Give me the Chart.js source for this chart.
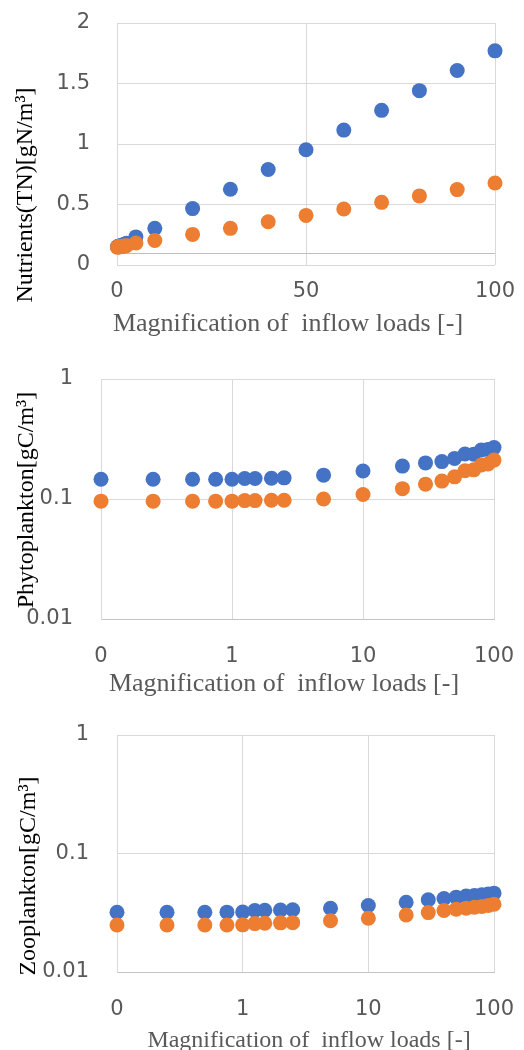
<!DOCTYPE html>
<html><head><meta charset="utf-8">
<script src="https://cdn.jsdelivr.net/npm/chart.js@4"></script>
<style>
html,body{margin:0;padding:0;background:#fff;}
body{width:524px;height:1050px;position:relative;overflow:hidden;}
.box{position:absolute;left:0;width:524px;}
canvas{display:block;}
</style></head><body>
<div class="box" style="top:0;height:340px"><canvas id="c1" width="524" height="340"></canvas></div>
<div class="box" style="top:340px;height:360px"><canvas id="c2" width="524" height="360"></canvas></div>
<div class="box" style="top:700px;height:350px"><canvas id="c3" width="524" height="350"></canvas></div>
<script>
// ---- data ----
const loadFactors = [0.1, 0.25, 0.5, 0.75, 1, 1.25, 1.5, 2, 2.5, 5, 10, 20, 30, 40, 50, 60, 70, 80, 90, 100];

const tnBlue   = [0.150, 0.152, 0.155, 0.158, 0.160, 0.163, 0.166, 0.172, 0.180, 0.232, 0.303, 0.466, 0.626, 0.789, 0.952, 1.115, 1.278, 1.441, 1.607, 1.770];
const tnOrange = [0.148, 0.149, 0.150, 0.151, 0.152, 0.153, 0.155, 0.157, 0.160, 0.182, 0.203, 0.253, 0.303, 0.358, 0.410, 0.463, 0.518, 0.571, 0.623, 0.678];

const phytoBlue   = [0.146, 0.146, 0.146, 0.146, 0.146, 0.148, 0.148, 0.149, 0.150, 0.158, 0.171, 0.188, 0.200, 0.205, 0.218, 0.237, 0.236, 0.256, 0.259, 0.268];
const phytoOrange = [0.096, 0.096, 0.096, 0.096, 0.096, 0.097, 0.097, 0.0975, 0.0975, 0.100, 0.109, 0.122, 0.133, 0.141, 0.153, 0.172, 0.175, 0.192, 0.196, 0.211];

const zooBlue   = [0.0319, 0.0319, 0.0319, 0.0320, 0.0321, 0.0330, 0.0332, 0.0334, 0.0335, 0.0345, 0.0364, 0.0388, 0.0407, 0.0417, 0.0428, 0.0437, 0.0443, 0.0449, 0.0455, 0.0463];
const zooOrange = [0.0249, 0.0249, 0.0249, 0.0249, 0.0250, 0.0256, 0.0258, 0.0260, 0.0261, 0.0271, 0.0284, 0.0303, 0.0317, 0.0330, 0.0339, 0.0345, 0.0352, 0.0357, 0.0364, 0.0373];

// ---- ticks ----
const tnXTickValues = [0, 50, 100];
const tnXTickLabels = ["0", "50", "100"];
const tnYTickValues = [0, 0.5, 1, 1.5, 2];
const tnYTickLabels = ["0", "0.5", "1", "1.5", "2"];
const logXTickValues = [0.1, 1, 10, 100];
const logXTickLabels = ["0", "1", "10", "100"];
const logYTickValues = [0.01, 0.1, 1];
const logYTickLabels = ["0.01", "0.1", "1"];

// ---- text ----
const xTitle = "Magnification of  inflow loads [-]";
const tnYTitle = "Nutrients(TN)[gN/m\u00B3]";
const phytoYTitle = "Phytoplankton[gC/m\u00B3]";
const zooYTitle = "Zooplankton[gC/m\u00B3]";

const BLUE = '#4472C4', ORANGE = '#ED7D31';
const GRID = '#D9D9D9', TICKC = '#595959';
const tickFont = {family: "'DejaVu Sans', sans-serif", size: 21};

const freeText = {
  id: 'freeText',
  afterDraw(chart, args, opts) {
    const ctx = chart.ctx;
    (opts.items || []).forEach(it => {
      ctx.save();
      ctx.translate(it.x, it.y);
      if (it.rotate) ctx.rotate(it.rotate);
      ctx.font = it.font;
      ctx.fillStyle = it.color;
      ctx.textAlign = 'center';
      ctx.textBaseline = 'alphabetic';
      ctx.fillText(it.text, 0, 0);
      ctx.restore();
    });
  }
};

const axisAt = {
  id: 'axisAt',
  beforeDatasetsDraw(chart, args, opts) {
    if (opts.value === undefined || opts.value === null) return;
    const ctx = chart.ctx, a = chart.chartArea;
    const y = Math.round(chart.scales.y.getPixelForValue(opts.value)) + 0.5;
    ctx.save();
    ctx.strokeStyle = opts.color || '#BFBFBF';
    ctx.lineWidth = 1;
    ctx.beginPath();
    ctx.moveTo(a.left, y);
    ctx.lineTo(a.right, y);
    ctx.stroke();
    ctx.restore();
  }
};

function fixedTicks(values) {
  return function (scale) { scale.ticks = values.map(v => ({value: v})); };
}
function labelsFrom(labels) {
  return function (value, index) { return labels[index]; };
}
function noPad(s) { s.paddingTop = 0; s.paddingBottom = 0; s.paddingLeft = 0; s.paddingRight = 0; }

function makeChart(id, cfg) {
  const H = cfg.H, area = cfg.area;
  return new Chart(document.getElementById(id), {
    type: 'scatter',
    data: {
      datasets: [
        {label: 'A', data: loadFactors.map((x, i) => ({x: x, y: cfg.blue[i]})), backgroundColor: BLUE, borderWidth: 0, pointRadius: 7.5, order: 1, clip: false},
        {label: 'B', data: loadFactors.map((x, i) => ({x: x, y: cfg.orange[i]})), backgroundColor: ORANGE, borderWidth: 0, pointRadius: 7.5, order: 0, clip: false}
      ]
    },
    options: {
      responsive: false,
      animation: false,
      devicePixelRatio: 1,
      layout: {padding: {left: 0, top: area.top, right: 524 - area.right, bottom: 0}},
      plugins: {
        legend: {display: false},
        tooltip: {enabled: false},
        freeText: {items: cfg.texts},
        axisAt: {value: cfg.axisAt, color: '#BFBFBF'}
      },
      scales: {
        x: {
          type: cfg.xType, min: cfg.xMin, max: cfg.xMax,
          afterBuildTicks: fixedTicks(cfg.xTicks),
          afterFit: s => { s.height = H - area.bottom; noPad(s); },
          ticks: {callback: labelsFrom(cfg.xLabels), font: tickFont, color: TICKC, padding: cfg.xPad, autoSkip: false, maxRotation: 0},
          grid: {color: GRID, lineWidth: 1, drawTicks: false},
          border: {display: cfg.xBorder, color: '#C4C4C4'}
        },
        y: {
          type: cfg.yType, min: cfg.yMin, max: cfg.yMax,
          afterBuildTicks: fixedTicks(cfg.yTicks),
          afterFit: s => { s.width = area.left; noPad(s); },
          ticks: {callback: labelsFrom(cfg.yLabels), font: tickFont, color: TICKC, padding: cfg.yPad, autoSkip: false},
          grid: {color: GRID, lineWidth: 1, drawTicks: false},
          border: {display: true, color: GRID}
        }
      }
    },
    plugins: [freeText, axisAt]
  });
}

const serif = "'Liberation Serif', 'Times New Roman', serif";

makeChart('c1', {
  H: 340, area: {left: 117, top: 23, right: 495, bottom: 265},
  blue: tnBlue, orange: tnOrange,
  xType: 'linear', xMin: 0, xMax: 100, xTicks: tnXTickValues, xLabels: tnXTickLabels, xPad: 14,
  yType: 'linear', yMin: 0, yMax: 2, yTicks: tnYTickValues, yLabels: tnYTickLabels, yPad: 27,
  xBorder: false, axisAt: 0.1,
  texts: [
    {text: xTitle, x: 288, y: 331, font: "26px " + serif, color: '#595959'},
    {text: tnYTitle, x: 32, y: 195, rotate: -Math.PI / 2, font: "24px " + serif, color: '#000000'}
  ]
});

makeChart('c2', {
  H: 360, area: {left: 101, top: 39, right: 494, bottom: 279},
  blue: phytoBlue, orange: phytoOrange,
  xType: 'logarithmic', xMin: 0.1, xMax: 100, xTicks: logXTickValues, xLabels: logXTickLabels, xPad: 25,
  yType: 'logarithmic', yMin: 0.01, yMax: 1, yTicks: logYTickValues, yLabels: logYTickLabels, yPad: 28,
  xBorder: true, axisAt: null,
  texts: [
    {text: xTitle, x: 284, y: 351, font: "26px " + serif, color: '#595959'},
    {text: phytoYTitle, x: 33, y: 160, rotate: -Math.PI / 2, font: "24px " + serif, color: '#000000'}
  ]
});

makeChart('c3', {
  H: 350, area: {left: 117, top: 35, right: 494, bottom: 272},
  blue: zooBlue, orange: zooOrange,
  xType: 'logarithmic', xMin: 0.1, xMax: 100, xTicks: logXTickValues, xLabels: logXTickLabels, xPad: 25,
  yType: 'logarithmic', yMin: 0.01, yMax: 1, yTicks: logYTickValues, yLabels: logYTickLabels, yPad: 28,
  xBorder: true, axisAt: null,
  texts: [
    {text: xTitle, x: 309, y: 347, font: "24px " + serif, color: '#595959'},
    {text: zooYTitle, x: 35, y: 176, rotate: -Math.PI / 2, font: "24px " + serif, color: '#000000'}
  ]
});
</script>
</body></html>
